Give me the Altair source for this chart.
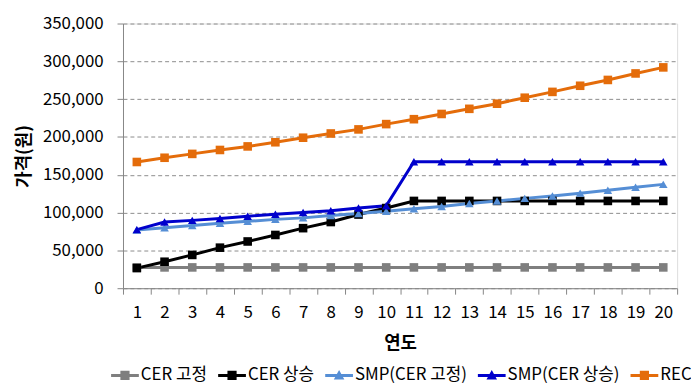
import altair as alt
import pandas as pd

years = list(range(1, 21))
series = ["CER 고정", "CER 상승", "SMP(CER 고정)", "SMP(CER 상승)", "REC"]
colors = ["#7F7F7F", "#000000", "#558ED5", "#0000CC", "#E46C0A"]

cer_fixed = [27500] * 20
cer_rise = [26600, 35000, 44000, 53600, 61800, 70400, 79400, 87500, 97400, 106000,
            115400, 115400, 115400, 115400, 115400, 115400, 115400, 115400, 115400, 115400]
smp_fixed = [77000, 80000, 82800, 85800, 88400, 91000, 93000, 96000, 98700, 101700,
             105000, 108000, 112000, 115400, 118800, 122000, 125700, 129600, 133400, 137300]
smp_rise = [77500, 87500, 89700, 92200, 95200, 97800, 100000, 102500, 106000, 109000,
            167300, 167300, 167300, 167300, 167300, 167300, 167300, 167300, 167300, 167300]
rec = [166900, 172500, 177600, 182800, 187500, 193000, 199000, 204600, 210000, 217000,
       223500, 230400, 237200, 244000, 251900, 259600, 267700, 275400, 284000, 292000]

values = [cer_fixed, cer_rise, smp_fixed, smp_rise, rec]
rows = []
for name, vals in zip(series, values):
    for yr, v in zip(years, vals):
        rows.append({"연도": yr, "가격": v, "series": name})
df = pd.DataFrame(rows)
legend_df = pd.DataFrame({"series": series, "연도": [1] * 5, "가격": [-100000] * 5})

FONT = "Noto Sans CJK KR"

x_enc = alt.X("연도:O", title="연도",
              scale=alt.Scale(type="band", paddingInner=0, paddingOuter=0),
              axis=alt.Axis(labelAngle=0, labelFontSize=17, labelColor="#000", labelFont=FONT,
                            labelPadding=11, tickBand="extent", tickSize=6, tickColor="#868686",
                            domainColor="#868686", titleFontSize=18, titleFont=FONT,
                            titleFontWeight="bold", titleColor="#000", titlePadding=14, grid=False))
y_enc = alt.Y("가격:Q", title="가격(원)",
              scale=alt.Scale(domain=[0, 350000], nice=False),
              axis=alt.Axis(values=[0, 50000, 100000, 150000, 200000, 250000, 300000, 350000],
                            format=",.0f", labelFontSize=17, labelColor="#000", labelFont=FONT,
                            labelPadding=14, tickSize=6, tickColor="#868686", domainColor="#868686",
                            gridDash=[4, 3], gridColor="#8C8C8C", gridWidth=1,
                            titleFontSize=18, titleFont=FONT, titleFontWeight="bold",
                            titleColor="#000", titlePadding=9))

color_scale = alt.Scale(domain=series, range=colors)

lines = alt.Chart(df).mark_line(strokeWidth=3).encode(
    x=x_enc, y=y_enc,
    color=alt.Color("series:N", scale=color_scale, legend=None),
    detail="series:N",
)

points = alt.Chart(df).mark_point(filled=True, opacity=1, size=75).encode(
    x=x_enc, y=y_enc,
    color=alt.Color("series:N", scale=color_scale, legend=None),
    shape=alt.Shape("series:N", scale=alt.Scale(domain=series,
                    range=["square", "square", "triangle-up", "triangle-up", "square"]), legend=None),
)

sq = "M-1,-0.11H1V0.11H-1Z M-0.33,-0.33H0.33V0.33H-0.33Z"
tri = "M-1,-0.11H1V0.11H-1Z M0,-0.4L0.38,0.3H-0.38Z"

legend_layer = alt.Chart(legend_df).mark_point(filled=True, opacity=1, clip=True).encode(
    x=x_enc, y=y_enc,
    color=alt.Color("series:N", scale=color_scale,
                    legend=alt.Legend(title=None, orient="none", direction="horizontal",
                                      legendX=-12, legendY=341, columns=5,
                                      symbolSize=784, symbolOpacity=1, symbolStrokeWidth=0,
                                      labelFontSize=17, labelFont=FONT, labelColor="#000",
                                      labelOffset=2, columnPadding=11, padding=0, labelLimit=200)),
    shape=alt.Shape("series:N", scale=alt.Scale(domain=series, range=[sq, sq, tri, tri, sq])),
)

chart = alt.layer(lines, points, legend_layer).resolve_scale(
    color="independent", shape="independent"
).properties(
    width=559, height=267,
    autosize=alt.AutoSizeParams(type="none"),
    padding={"left": 116, "top": 14, "right": 14, "bottom": 98},
).configure_view(stroke=None).configure(background="#FFFFFF")

chart.save("out.html", embed_options={"renderer": "svg", "actions": False})
